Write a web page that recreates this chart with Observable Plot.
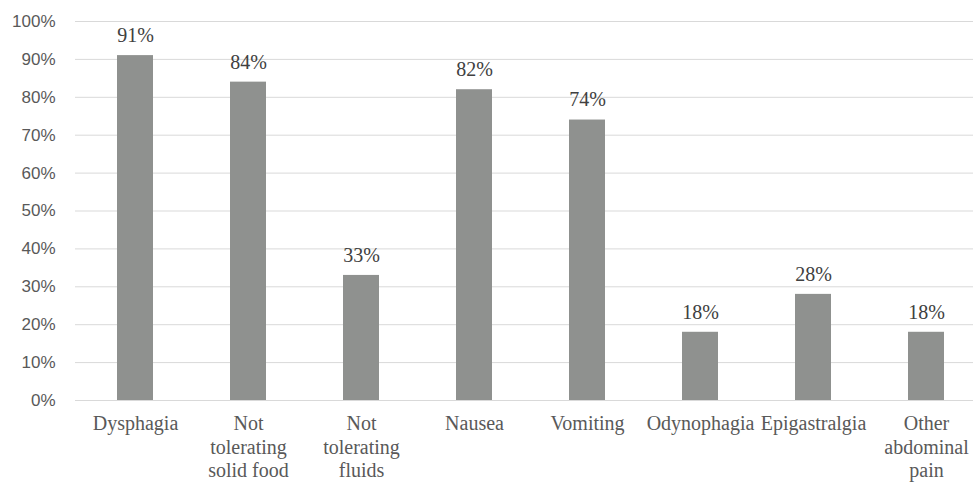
<!DOCTYPE html>
<html>
<head>
<meta charset="utf-8">
<script src="https://cdn.jsdelivr.net/npm/d3@7"></script>
<script src="https://cdn.jsdelivr.net/npm/@observablehq/plot@0.6"></script>
<style>
  html, body { margin: 0; padding: 0; background: #fff; overflow: hidden; }
  svg { overflow: hidden; }
</style>
</head>
<body>
<div id="chart"></div>
<script>
const categories = ["Dysphagia", "Not\ntolerating\nsolid food", "Not\ntolerating\nfluids", "Nausea", "Vomiting", "Odynophagia", "Epigastralgia", "Other\nabdominal\npain"];
const values = [91, 84, 33, 82, 74, 18, 28, 18];
const yTicks = [0, 10, 20, 30, 40, 50, 60, 70, 80, 90, 100];

const data = categories.map((c, i) => ({category: c, value: values[i]}));

const serif = "Liberation Serif";
const sans = "Liberation Sans";

const chart = Plot.plot({
  width: 973,
  height: 482,
  marginLeft: 75,
  marginRight: -12,
  marginTop: 21,
  marginBottom: 82,
  style: {background: "#fff", overflow: "hidden"},
  x: {domain: categories, paddingInner: 0.683, paddingOuter: 0.3415, label: null},
  y: {domain: [0, 100], label: null},
  marks: [
    Plot.gridY(yTicks, {stroke: "#d9d9d9", strokeOpacity: 1, strokeWidth: 1}),
    Plot.barY(data, {x: "category", y: "value", fill: "#8f918f"}),
    Plot.text(data, {x: "category", y: "value", text: d => d.value + "%", dy: -20, fontFamily: serif, fontSize: 20, fill: "#404040"}),
    Plot.axisY(yTicks, {tickSize: 0, tickPadding: 20, tickFormat: d => d + "%", fontFamily: sans, fontSize: 17, fill: "#595959", label: null}),
    Plot.axisX({tickSize: 0, tickPadding: 13, fontFamily: serif, fontSize: 20, fill: "#595959", lineHeight: 1.17, label: null})
  ]
});
document.getElementById("chart").appendChild(chart);
</script>
</body>
</html>
